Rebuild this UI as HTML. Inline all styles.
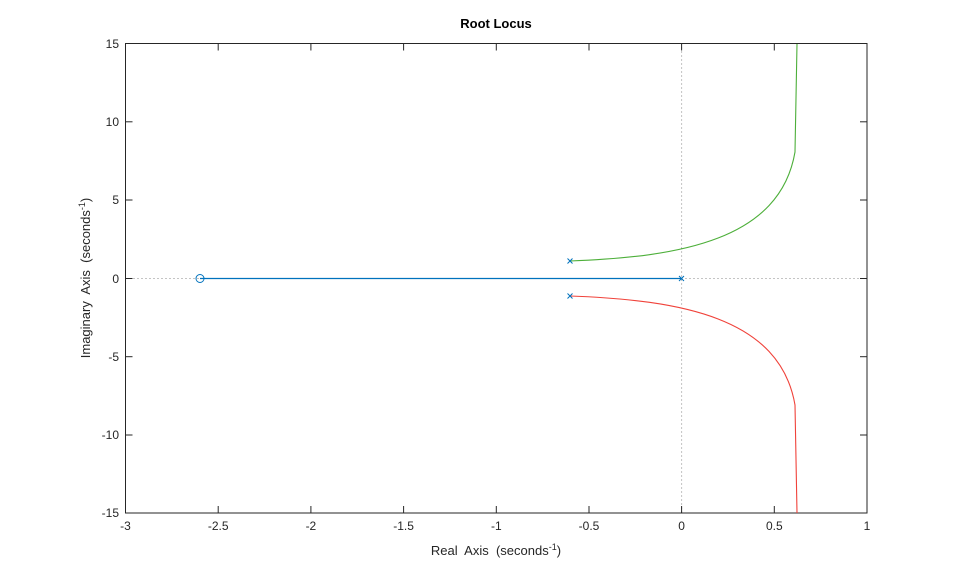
<!DOCTYPE html>
<html><head><meta charset="utf-8"><style>
html,body{margin:0;padding:0;background:#fff;}
svg{display:block;font-family:"Liberation Sans",Arial,sans-serif;}
</style></head><body>
<svg width="959" height="577" viewBox="0 0 959 577" xmlns="http://www.w3.org/2000/svg">
<rect x="0" y="0" width="959" height="577" fill="#fff"/>
<line x1="125.5" y1="278.5" x2="867" y2="278.5" stroke="#888" stroke-width="1" stroke-dasharray="1,3"/>
<line x1="681.6" y1="43.5" x2="681.6" y2="513" stroke="#888" stroke-width="1" stroke-dasharray="1,3"/>
<g stroke="#262626" stroke-width="1">
<line x1="125.5" y1="513" x2="125.5" y2="506"/><line x1="218.2" y1="513" x2="218.2" y2="506"/><line x1="310.9" y1="513" x2="310.9" y2="506"/><line x1="403.6" y1="513" x2="403.6" y2="506"/><line x1="496.3" y1="513" x2="496.3" y2="506"/><line x1="589" y1="513" x2="589" y2="506"/><line x1="681.6" y1="513" x2="681.6" y2="506"/><line x1="774.3" y1="513" x2="774.3" y2="506"/>
<line x1="218.2" y1="43.5" x2="218.2" y2="50.5"/><line x1="310.9" y1="43.5" x2="310.9" y2="50.5"/><line x1="403.6" y1="43.5" x2="403.6" y2="50.5"/><line x1="496.3" y1="43.5" x2="496.3" y2="50.5"/><line x1="589" y1="43.5" x2="589" y2="50.5"/><line x1="681.6" y1="43.5" x2="681.6" y2="50.5"/><line x1="774.3" y1="43.5" x2="774.3" y2="50.5"/>
<line x1="125.5" y1="121.8" x2="132.5" y2="121.8"/><line x1="125.5" y1="200" x2="132.5" y2="200"/><line x1="125.5" y1="278.5" x2="132.5" y2="278.5"/><line x1="125.5" y1="356.7" x2="132.5" y2="356.7"/><line x1="125.5" y1="435" x2="132.5" y2="435"/>
<line x1="867" y1="121.8" x2="860" y2="121.8"/><line x1="867" y1="200" x2="860" y2="200"/><line x1="867" y1="278.5" x2="860" y2="278.5"/><line x1="867" y1="356.7" x2="860" y2="356.7"/><line x1="867" y1="435" x2="860" y2="435"/>
</g>
<rect x="125.5" y="43.5" width="741.5" height="469.5" fill="none" stroke="#262626" stroke-width="1"/>
<line x1="200" y1="278.5" x2="681.6" y2="278.5" stroke="#0072BD" stroke-width="1.2"/>
<path fill="none" stroke="#4DAF3A" stroke-width="1.1" d="M570,261 C680,257 780,240 795,152 L797,44"/>
<path fill="none" stroke="#F0423A" stroke-width="1.1" d="M570,296 C680,300 780,317 795,405 L797,513"/>
<circle cx="200" cy="278.5" r="4" fill="none" stroke="#0072BD" stroke-width="1"/>
<g stroke="#0072BD" stroke-width="1">
<path d="M567.5,258.5 l5,5 M572.5,258.5 l-5,5"/>
<path d="M567.5,293.5 l5,5 M572.5,293.5 l-5,5"/>
<path d="M679,276 l5,5 M684,276 l-5,5"/>
</g>
<g font-size="12" fill="#262626" text-anchor="middle">
<text x="125.5" y="530">-3</text><text x="218.2" y="530">-2.5</text><text x="310.9" y="530">-2</text><text x="403.6" y="530">-1.5</text><text x="496.3" y="530">-1</text><text x="589" y="530">-0.5</text><text x="681.6" y="530">0</text><text x="774.3" y="530">0.5</text><text x="867" y="530">1</text>
</g>
<g font-size="12" fill="#262626" text-anchor="end">
<text x="119" y="48">15</text><text x="119" y="126">10</text><text x="119" y="204">5</text><text x="119" y="283">0</text><text x="119" y="361">-5</text><text x="119" y="439">-10</text><text x="119" y="517">-15</text>
</g>
<text x="496" y="28" font-size="13" font-weight="bold" fill="#000" text-anchor="middle">Root Locus</text>
<text x="496" y="555" font-size="13" fill="#262626" text-anchor="middle">Real&#160; Axis&#160; (seconds<tspan font-size="9" dy="-5">-1</tspan><tspan dy="5">)</tspan></text>
<text transform="translate(90,278) rotate(-90)" font-size="13" fill="#262626" text-anchor="middle">Imaginary&#160; Axis&#160; (seconds<tspan font-size="9" dy="-5">-1</tspan><tspan dy="5">)</tspan></text>
</svg>
</body></html>
